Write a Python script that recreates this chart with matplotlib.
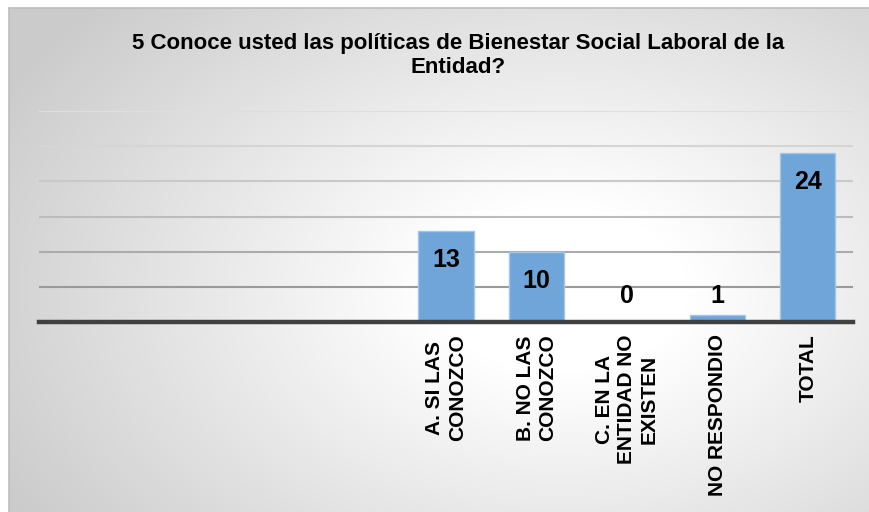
import numpy as np
import matplotlib
matplotlib.use("Agg")
import matplotlib.pyplot as plt

# ---- data ----
title = "5 Conoce usted las políticas de Bienestar Social Laboral de la\nEntidad?"
categories = ["", "", "", "", "A. SI LAS\nCONOZCO", "B. NO LAS\nCONOZCO",
              "C. EN LA\nENTIDAD NO\nEXISTEN", "NO RESPONDIO", "TOTAL"]
values = [None, None, None, None, 13, 10, 0, 1, 24]
grid_values = [5, 10, 15, 20, 25, 30]

W, H = 870, 512
fig = plt.figure(figsize=(W / 100, H / 100), dpi=100)
fig.patch.set_facecolor("white")

# background radial gradient (chart area)
bx0, by0 = 9, 8
bg = fig.add_axes([bx0 / W, 0, 1 - bx0 / W, 1 - by0 / H])
yy, xx = np.mgrid[by0:H, bx0:W]
cx, cy, rx, ry = 560, 290, 640, 420
t = np.sqrt(((xx - cx) / rx) ** 2 + ((yy - cy) / ry) ** 2)
v = 255 - 52 * np.clip((t - 0.2) / 0.8, 0, 1)
img = np.dstack([v, v, v]).astype(np.uint8)
bg.imshow(img, aspect="auto", interpolation="bilinear")
bg.set_axis_off()
# thin border on left/top of chart area
fig.add_artist(plt.Line2D([bx0 / W, bx0 / W], [0, 1 - by0 / H], color="#bdbdbd", lw=1.2, transform=fig.transFigure))
fig.add_artist(plt.Line2D([bx0 / W, 1], [1 - by0 / H, 1 - by0 / H], color="#bdbdbd", lw=1.2, transform=fig.transFigure))

# main axes
x0, x1 = 39, 853
y_axis, y_top = 322, 111
ax = fig.add_axes([x0 / W, (H - y_axis) / H, (x1 - x0) / W, (y_axis - y_top) / H])
ax.patch.set_alpha(0)
n = len(categories)
ax.set_xlim(-0.5, n - 0.5)
ax.set_ylim(0, 30)
for s in ax.spines.values():
    s.set_visible(False)

grid_colors = ["#9a9a9a", "#ababab", "#bcbcbc", "#c9c9c9", "#d5d5d5", "#dedede"]
for gv, gc in zip(grid_values, grid_colors):
    ax.axhline(gv, color=gc, lw=1.5, zorder=1)
ax.axhline(0, color="#404040", lw=3.2, zorder=3, clip_on=False)

xs = np.arange(n)
for i, val in enumerate(values):
    if val is None:
        continue
    ax.bar(i, val, width=0.61, color="#6fa5d8", edgecolor="#a3c6e8", linewidth=1.0, zorder=2)
    if val * 7 > 45:
        ax.annotate(str(val), (i, val), xytext=(0, -29), textcoords="offset pixels",
                    ha="center", va="center", fontsize=18, fontweight="bold",
                    family="Liberation Sans", zorder=4)
    else:
        ax.annotate(str(val), (i, 0), xytext=(0, 26), textcoords="offset pixels",
                    ha="center", va="center", fontsize=18, fontweight="bold",
                    family="Liberation Sans", zorder=4)

ax.set_yticks([])
ax.set_xticks(xs)
ax.set_xticklabels(categories, rotation=90, fontsize=15, fontweight="bold",
                   family="Liberation Sans", ha="center", va="top", multialignment="center",
                   linespacing=1.22)
ax.tick_params(axis="x", length=0, pad=9)

fig.text(458 / W, 1 - 55.5 / H, title, ha="center", va="center",
         fontsize=16, fontweight="bold", family="Liberation Sans", linespacing=1.15)

fig.savefig("out.png", dpi=100)
